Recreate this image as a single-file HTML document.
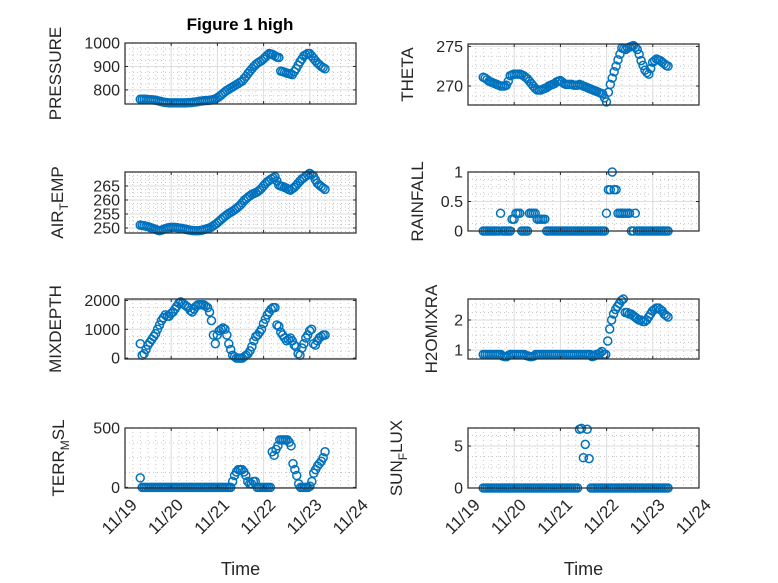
<!DOCTYPE html>
<html><head><meta charset="utf-8"><style>
body{margin:0;background:#fff}
svg{display:block;font-family:"Liberation Sans",sans-serif}
</style></head><body>
<svg id="fig" width="778" height="583" viewBox="0 0 778 583" xmlns="http://www.w3.org/2000/svg">
<rect width="778" height="583" fill="#fff"/>
<text x="240" y="30" text-anchor="middle" font-weight="bold" font-size="17" fill="#000">Figure 1 high</text>
</svg>
<script>
const tStart=0.33, tEnd=4.33;
const xTickLabels=["11/19","11/20","11/21","11/22","11/23","11/24"];
const pressure=[760,760,760,760,759,758,758,757,756,754,752,750,748,747,746,745,745,745,745,745,745,745,745,745,745,746,746,747,748,749,750,752,753,754,755,755,756,757,759,762,766,772,778,785,792,798,803,808,813,818,823,828,833,838,848,858,870,880,890,900,908,915,920,925,932,940,948,955,953,950,945,940,938,880,878,875,872,870,868,865,878,890,905,920,932,945,950,955,955,945,935,925,915,908,900,895,890];
const theta=[271.1,271,270.8,270.6,270.5,270.4,270.3,270.2,270.1,270,270,270,270.1,270.6,271.3,271.4,271.5,271.5,271.5,271.5,271.4,271.3,271.1,270.9,270.6,270.3,270,269.7,269.5,269.5,269.5,269.6,269.7,269.8,270,270.1,270.2,270.3,270.5,270.6,270.7,270.5,270.3,270.2,270.2,270.2,270.2,270.1,270.1,270.1,270.2,270.1,270,269.9,269.8,269.7,269.6,269.5,269.4,269.3,269.2,269.1,269,268.5,268,269.2,270.2,271,271.8,272.5,273.3,274,274.8,274.7,274.6,274.8,274.9,275,275.1,274.9,274.6,274,273.2,272.6,272,271.7,271.5,272.2,273,273.2,273.4,273.3,273.2,273,272.8,272.6,272.5];
const airTemp=[251,250.9,250.8,250.6,250.5,250.2,250,249.7,249.5,249.2,249,249.2,249.5,249.7,250,250.1,250.2,250.2,250.2,250.1,250,249.9,249.8,249.6,249.5,249.3,249.2,249.1,249,249,249,249.1,249.2,249.4,249.6,249.8,250,250.4,250.8,251.3,251.8,252.4,253,253.6,254.2,254.7,255.2,255.6,256,256.5,257,257.6,258.2,259,259.8,260.4,261,261.5,262,262.3,262.6,263,263.5,264.2,265,265.8,266.5,267,267.5,267.9,268.3,266.8,265.3,265,264.8,264.5,264.2,263.8,263.5,264,264.5,265.2,266,266.8,267.5,268,268.5,269,269.5,269,268.5,267.2,266,265.4,264.8,264.3,263.8];
const rainfall=[0,0,0,0,0,0,0,0,0,0.3,0,0,0,0,0,0.2,0.2,0.3,0.3,0.3,0,0,0,0,0.3,0.3,0.3,0.3,0.2,0.2,0.2,0.2,0.2,0,0,0,0,0,0,0,0,0,0,0,0,0,0,0,0,0,0,0,0,0,0,0,0,0,0,0,0,0,0,0,0.3,0.7,0.7,1.0,0.7,0.7,0.3,0.3,0.3,0.3,0.3,0.3,0.3,0,0,0.3,0,0,0,0,0,0,0,0,0,0,0,0,0,0,0,0,0];
const mixDepth=[500,100,150,300,450,550,650,750,850,1000,1150,1300,1400,1500,1450,1450,1550,1600,1700,1800,1900,1950,1900,1850,1800,1750,1650,1600,1700,1800,1850,1850,1850,1850,1800,1750,1600,1300,800,500,800,950,1000,1050,1000,800,500,300,100,50,0,0,0,0,50,100,150,250,400,600,750,800,900,1000,1200,1350,1500,1600,1700,1750,1750,1150,1100,900,800,700,600,650,700,600,450,400,150,100,350,500,700,800,950,1000,500,450,600,700,750,800,800];
const h2oMix=[0.85,0.85,0.85,0.85,0.85,0.85,0.85,0.85,0.85,0.85,0.8,0.78,0.78,0.82,0.85,0.85,0.85,0.85,0.85,0.85,0.85,0.85,0.82,0.8,0.78,0.78,0.8,0.85,0.85,0.85,0.85,0.85,0.85,0.85,0.85,0.85,0.85,0.85,0.85,0.85,0.85,0.85,0.85,0.85,0.85,0.85,0.85,0.85,0.85,0.85,0.85,0.85,0.85,0.85,0.85,0.85,0.78,0.8,0.85,0.85,0.9,0.95,0.85,0.85,1.3,1.7,2.0,2.2,2.35,2.45,2.55,2.65,2.7,2.25,2.25,2.2,2.2,2.15,2.1,2.05,2.0,2.0,1.95,1.95,2.0,2.1,2.2,2.3,2.35,2.4,2.4,2.35,2.3,2.2,2.15,2.1];
const terrMsl=[80,0,0,0,0,0,0,0,0,0,0,0,0,0,0,0,0,0,0,0,0,0,0,0,0,0,0,0,0,0,0,0,0,0,0,0,0,0,0,0,0,0,0,0,0,0,0,0,0,50,100,130,150,150,150,130,100,50,30,30,50,50,0,0,0,0,0,0,0,0,300,270,320,350,400,400,400,400,400,380,350,200,150,100,30,0,0,0,0,0,10,50,120,150,180,200,220,250,300];
const sunFlux=[0,0,0,0,0,0,0,0,0,0,0,0,0,0,0,0,0,0,0,0,0,0,0,0,0,0,0,0,0,0,0,0,0,0,0,0,0,0,0,0,0,0,0,0,0,0,0,0,0,0,7,7.1,3.6,5.2,7,3.5,0,0,0,0,0,0,0,0,0,0,0,0,0,0,0,0,0,0,0,0,0,0,0,0,0,0,0,0,0,0,0,0,0,0,0,0,0,0,0,0,0];

const NS="http://www.w3.org/2000/svg";
const svg=document.getElementById('fig');
function mk(tag,attrs,parent){const e=document.createElementNS(NS,tag);for(const k in attrs)e.setAttribute(k,attrs[k]);(parent||svg).appendChild(e);return e;}

const panels=[
 {name:'pressure',vals:pressure,x0:125,y0:43,y1:104,ymin:740,ymax:1000,ticks:[800,900,1000],minor:25,label:['PRESSURE'],lx:55,xlab:false},
 {name:'theta',vals:theta,x0:468,y0:44,y1:105,ymin:267.6,ymax:275.3,ticks:[270,275],minor:1.25,label:['THETA'],lx:407,xlab:false},
 {name:'air-temp',vals:airTemp,x0:125,y0:172,y1:233,ymin:248.2,ymax:270,ticks:[250,255,260,265],minor:1.25,label:['AIR','T','EMP'],lx:57,xlab:false},
 {name:'rainfall',vals:rainfall,x0:468,y0:172,y1:231,ymin:0,ymax:1,ticks:[0,0.5,1],minor:0.125,label:['RAINFALL'],lx:417,xlab:false},
 {name:'mix-depth',vals:mixDepth,x0:125,y0:299,y1:359,ymin:-30,ymax:2050,ticks:[0,1000,2000],minor:250,label:['MIXDEPTH'],lx:55,xlab:false},
 {name:'h2o-mix',vals:h2oMix,x0:468,y0:299,y1:359,ymin:0.7,ymax:2.7,ticks:[1,2],minor:0.25,label:['H2OMIXRA'],lx:431,xlab:false},
 {name:'terr-msl',vals:terrMsl,x0:125,y0:428,y1:488,ymin:-5,ymax:500,ticks:[0,500],minor:125,label:['TERR','M','SL'],lx:58,xlab:true},
 {name:'sun-flux',vals:sunFlux,x0:468,y0:428,y1:488,ymin:0,ymax:7.15,ticks:[0,5],minor:1.25,label:['SUN','F','LUX'],lx:396,xlab:true}
];
const W=231,NDAYS=5;
panels.forEach(p=>{
 const g=mk('g',{});
 
 
 const xs=t=>p.x0+t/NDAYS*W;
 const ys=v=>p.y1-(v-p.ymin)/(p.ymax-p.ymin)*(p.y1-p.y0);
 const x1=p.x0+W;
 for(let t=0;t<=NDAYS+1e-6;t+=1/6){const x=xs(t);mk('line',{x1:x,x2:x,y1:p.y0,y2:p.y1,stroke:'#c8c8c8','stroke-width':1,'stroke-dasharray':'1 3'},g);}
 for(let v=Math.ceil(p.ymin/p.minor)*p.minor;v<=p.ymax;v+=p.minor){const y=ys(v);mk('line',{x1:p.x0,x2:x1,y1:y,y2:y,stroke:'#c8c8c8','stroke-width':1,'stroke-dasharray':'1 3'},g);}
 for(let d=0;d<=NDAYS;d++){const x=xs(d);mk('line',{x1:x,x2:x,y1:p.y0,y2:p.y1,stroke:'#dedede','stroke-width':1},g);}
 p.ticks.forEach(v=>{const y=ys(v);mk('line',{x1:p.x0,x2:x1,y1:y,y2:y,stroke:'#dedede','stroke-width':1},g);});
 const mg=mk('g',{fill:'none',stroke:'#0072BD','stroke-width':1.5},g);
 
 
 const n=p.vals.length;
 p.vals.forEach((v,i)=>{
  const t=tStart+i*(tEnd-tStart)/(n-1);
  const c=mk('circle',{cx:xs(t),cy:ys(v),r:4},mg);
  
  
 });
 mk('rect',{x:p.x0,y:p.y0,width:W,height:p.y1-p.y0,fill:'none',stroke:'#262626','stroke-width':1.2},g);
 for(let d=0;d<=NDAYS;d++){const x=xs(d);mk('line',{x1:x,x2:x,y1:p.y1,y2:p.y1-3,stroke:'#262626'},g);mk('line',{x1:x,x2:x,y1:p.y0,y2:p.y0+3,stroke:'#262626'},g);}
 p.ticks.forEach(v=>{const y=ys(v);mk('line',{x1:p.x0,x2:p.x0+3,y1:y,y2:y,stroke:'#262626'},g);mk('line',{x1:x1,x2:x1-3,y1:y,y2:y,stroke:'#262626'},g);
  const t=mk('text',{x:p.x0-5,y:y+5.5,'text-anchor':'end','font-size':16,fill:'#262626'},g);t.textContent=String(v);
  
  
 });
 const cy=(p.y0+p.y1)/2;
 const yl=mk('text',{x:0,y:0,'text-anchor':'middle','font-size':17,fill:'#262626',transform:`translate(${p.lx+6},${cy}) rotate(-90)`},g);
 
 
 if(p.label.length===1){yl.textContent=p.label[0];}
 else{const a=mk('tspan',{},yl);a.textContent=p.label[0];const b=mk('tspan',{dy:5,'font-size':12},yl);b.textContent=p.label[1];const c=mk('tspan',{dy:-5},yl);c.textContent=p.label[2];}
 if(p.xlab){
  xTickLabels.forEach((s,d)=>{const x=xs(d);const t=mk('text',{x:0,y:0,'text-anchor':'end','font-size':17,fill:'#262626',transform:`translate(${x+13},${p.y1+18}) rotate(-45)`},g);t.textContent=s;
   
   });
  const xt=mk('text',{x:p.x0+W/2,y:575,'text-anchor':'middle','font-size':18,fill:'#262626'},g);xt.textContent='Time';
  
  
 }
});
</script>
</body></html>
